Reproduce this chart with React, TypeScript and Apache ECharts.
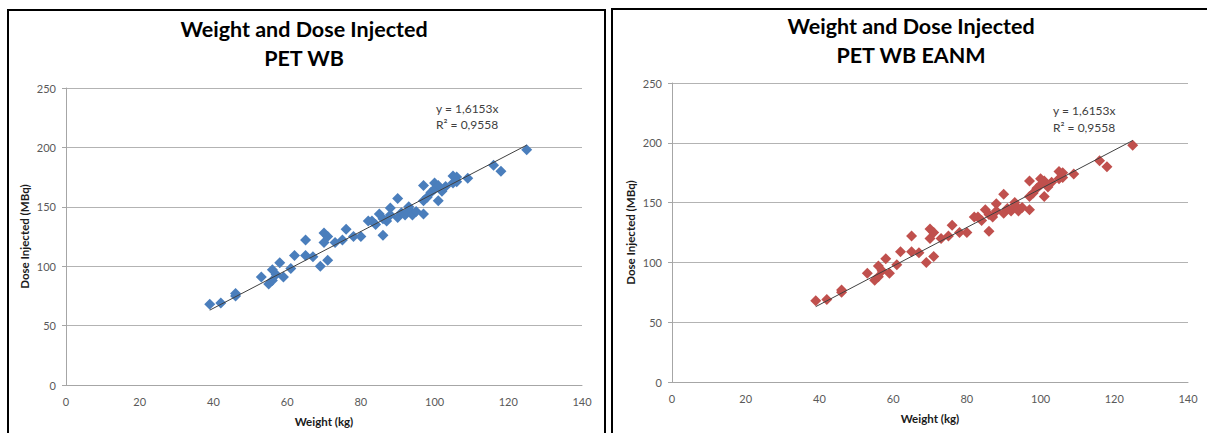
import React, { useEffect, useRef } from "react";
import * as echarts from "echarts";

// Patient weight (kg) and injected dose (MBq) – same cohort in both panels
const weights = [39, 42, 46, 46, 53, 55, 56, 56, 57, 58, 59, 61, 62, 65, 65, 67, 69, 70, 70, 71, 71, 73, 75, 76, 78, 80, 82, 83, 84, 85, 86, 86, 87, 88, 88, 90, 90, 91, 92, 93, 93, 94, 94, 95, 97, 97, 97, 98, 99, 100, 100, 101, 101, 102, 103, 105, 105, 106, 106, 109, 116, 118, 125];
const doses = [68, 69, 75, 77, 91, 85, 88, 97, 93, 103, 91, 98, 109, 122, 109, 108, 100, 120, 128, 125, 105, 120, 122, 131, 125, 125, 138, 138, 135, 144, 126, 140, 138, 149, 143, 157, 141, 145, 143, 150, 147, 145, 143, 146, 155, 168, 144, 158, 162, 170, 165, 155, 168, 163, 167, 170, 176, 175, 171, 174, 185, 180, 198];

const xTicks = { min: 0, max: 140, interval: 20 };
const yTicks = { min: 0, max: 250, interval: 50 };

const slope = 1.6153;
const equationText = "y = 1,6153x";
const r2Text = "R² = 0,9558";

const titles = ["Weight and Dose Injected", "PET WB", "Weight and Dose Injected", "PET WB EANM"];
const xName = "Weight (kg)";
const yName = "Dose Injected (MBq)";

const FONT = "Lato, 'Liberation Sans', sans-serif";

export default function App() {
  const ref = useRef<HTMLDivElement>(null);
  useEffect(() => {
    if (!ref.current) return;
    const chart = echarts.init(ref.current, undefined, { renderer: "svg" });
    const pts = weights.map((w, i) => [w, doses[i]]);
    const wMin = Math.min(...weights);
    const wMax = Math.max(...weights);
    const trend = [
      [wMin, slope * wMin],
      [wMax, slope * wMax],
    ];
    const grids = [
      { left: 66, top: 88, width: 516, height: 297 },
      { left: 672, top: 83, width: 516, height: 299 },
    ];
    const mkX = (gi: number) => ({
      type: "value",
      gridIndex: gi,
      ...xTicks,
      axisLine: { show: true, onZero: false, lineStyle: { color: "#a6a6a6", width: 1 } },
      axisTick: { show: false },
      splitLine: { show: false },
      axisLabel: { color: "#595959", fontSize: 11, fontFamily: FONT, margin: 11 },
      name: xName,
      nameLocation: "middle",
      nameGap: 30,
      nameTextStyle: { color: "#1a1a1a", fontSize: 11.5, fontWeight: "bold", fontFamily: FONT },
    });
    const mkY = (gi: number) => ({
      type: "value",
      gridIndex: gi,
      ...yTicks,
      axisLine: { show: true, lineStyle: { color: "#a6a6a6", width: 1 } },
      axisTick: { show: true, length: 4, lineStyle: { color: "#a6a6a6" } },
      splitLine: { show: true, lineStyle: { color: "#b3b3b3", width: 1 } },
      axisLabel: { color: "#595959", fontSize: 11, fontFamily: FONT, margin: 10 },
      name: yName,
      nameLocation: "middle",
      nameGap: 36,
      nameTextStyle: { color: "#1a1a1a", fontSize: 11.5, fontWeight: "bold", fontFamily: FONT },
    });
    const colors = ["#4a7ebc", "#c0504d"];
    const series: any[] = [];
    [0, 1].forEach((gi) => {
      series.push({
        type: "scatter",
        xAxisIndex: gi,
        yAxisIndex: gi,
        data: pts,
        symbol: "diamond",
        symbolSize: 11,
        itemStyle: { color: colors[gi], opacity: 1 },
        z: 2,
      });
      series.push({
        type: "line",
        xAxisIndex: gi,
        yAxisIndex: gi,
        data: trend,
        symbol: "none",
        lineStyle: { color: "#404040", width: 1 },
        z: 3,
      });
    });
    const txt = (x: number, y: number, text: string, size: number, bold: boolean, align = "left") => ({
      type: "text",
      x,
      y,
      style: {
        text,
        fill: bold ? "#000" : "#404040",
        font: `${bold ? "bold " : ""}${size}px ${FONT}`,
        textAlign: align,
        textVerticalAlign: "middle",
      },
      z: 10,
    });
    chart.setOption({
      animation: false,
      backgroundColor: "#ffffff",
      grid: grids,
      xAxis: [mkX(0), mkX(1)],
      yAxis: [mkY(0), mkY(1)],
      series,
      graphic: [
        { type: "rect", shape: { x: 8, y: 10, width: 597, height: 440 }, style: { fill: "none", stroke: "#000", lineWidth: 2 }, z: 1 },
        { type: "rect", shape: { x: 612, y: 9, width: 600, height: 440 }, style: { fill: "none", stroke: "#000", lineWidth: 2 }, z: 1 },
        txt(304, 29, titles[0], 21.5, true, "center"),
        txt(304, 58, titles[1], 21.5, true, "center"),
        txt(911, 26, titles[2], 21.5, true, "center"),
        txt(911, 55, titles[3], 21.5, true, "center"),
        txt(436, 108, equationText, 12, false),
        txt(436, 124, r2Text, 12, false),
        txt(1053, 110, equationText, 12, false),
        txt(1053, 127, r2Text, 12, false),
      ],
    });
    return () => chart.dispose();
  }, []);
  return (
    <div style={{ position: "fixed", left: 0, top: 0, width: 1207, height: 433, background: "#fff" }}>
      <div ref={ref} style={{ width: 1207, height: 433 }} />
    </div>
  );
}
